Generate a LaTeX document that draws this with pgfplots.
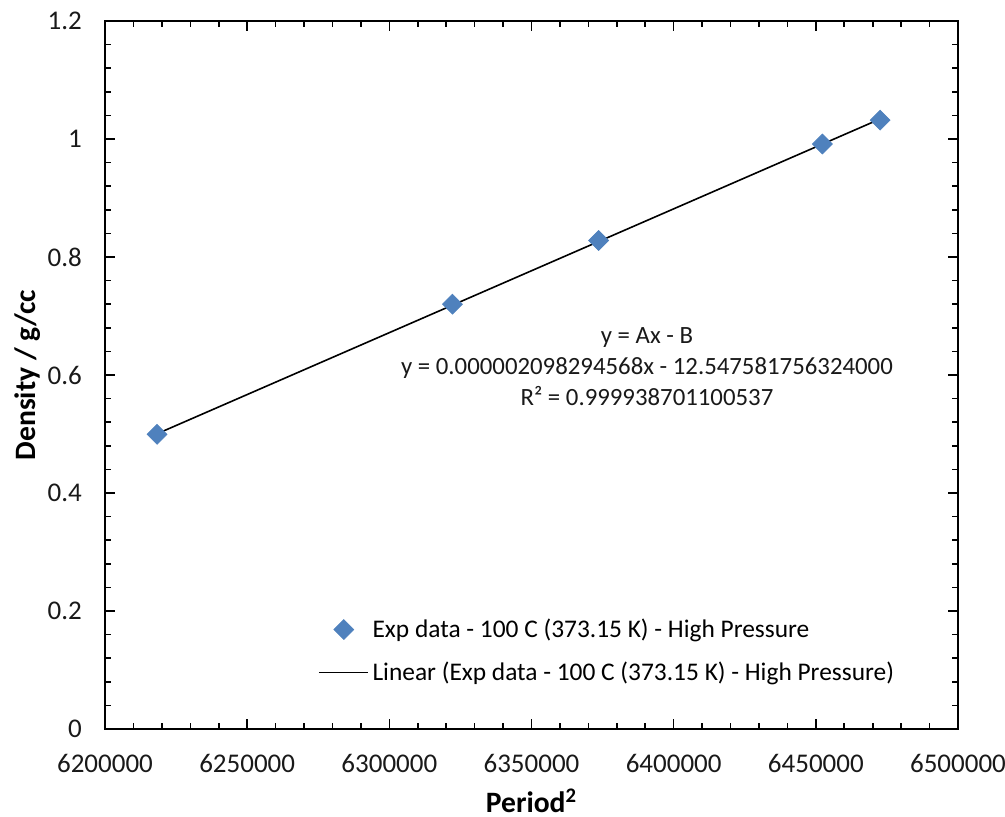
\documentclass[border=0pt]{standalone}
\usepackage{fontspec}
\setmainfont{Carlito}
\usepackage{pgfplots}
\pgfplotsset{compat=1.18}
\definecolor{expblue}{HTML}{4F81BD}

\begin{document}
\begin{tikzpicture}
\useasboundingbox (-52.5pt,-43.5pt) rectangle (450pt,364.5pt);
\begin{axis}[
  at={(0pt,0pt)}, anchor=south west,
  scale only axis, width=426.5pt, height=354pt,
  xmin=6200000, xmax=6500000, ymin=0, ymax=1.2,
  xtick={6200000,6250000,...,6500000},
  ytick={0,0.2,...,1.2},
  minor x tick num=4, minor y tick num=4,
  tick align=inside,
  major tick length=5pt, minor tick length=3pt,
  tick style={black, line width=0.8pt},
  axis line style={black, line width=0.9pt},
  scaled x ticks=false, scaled y ticks=false,
  /pgf/number format/assume math mode=true,
  xticklabel style={/pgf/number format/fixed, /pgf/number format/1000 sep={}, yshift=-9pt},
  yticklabel style={/pgf/number format/fixed, /pgf/number format/precision=1, xshift=-8pt},
  ticklabel style={font=\fontsize{13.5}{15}\selectfont, text=black!90},
  xlabel={\textbf{Period\textsuperscript{2}}},
  ylabel={\textbf{Density / g/cc}},
  label style={font=\fontsize{14.8}{16}\selectfont, inner sep=0pt},
  xlabel style={yshift=-4.5pt},
  ylabel style={yshift=0pt},
  legend style={draw=none, fill=none, inner sep=0pt, outer sep=0pt,
    at={(axis cs:6274900,0.1322)}, anchor=west,
    font=\fontsize{12.7}{14}\selectfont, row sep=6.7pt,
    /tikz/every even column/.append style={column sep=1.5pt}},
  legend cell align=left,
]
\addplot[only marks, mark=square*, mark size=3.5pt,
  mark options={rotate=45, fill=expblue, draw=expblue},
  legend image code/.code={\path[draw=none] (0pt,0pt) -- (24.5pt,0pt);
    \path[draw=none] plot[only marks] coordinates {(12.5pt,0pt)};}]
  coordinates {
    (6218300, 0.4995)
    (6322200, 0.7200)
    (6373600, 0.8280)
    (6452300, 0.9915)
    (6472600, 1.0320)
  };
\addlegendentry{Exp data - 100 C (373.15 K) - High Pressure}
% least-squares trend line over the measured range
\addplot[black, line width=0.8pt, mark=none,
  legend image code/.code={\draw[black, line width=0.8pt] (0pt,0pt) -- (24.5pt,0pt);}]
  coordinates {
    (6218300, 0.50035)
    (6472600, 1.03395)
  };
\addlegendentry{Linear (Exp data - 100 C (373.15 K) - High Pressure)}
\node[align=center, font=\fontsize{12.4}{15.5}\selectfont, text=black!90]
  at (axis cs:6390600,0.6136)
  {y = Ax - B\\ y = 0.000002098294568x - 12.547581756324000\\ R² = 0.999938701100537};
\end{axis}
\end{tikzpicture}
\end{document}
